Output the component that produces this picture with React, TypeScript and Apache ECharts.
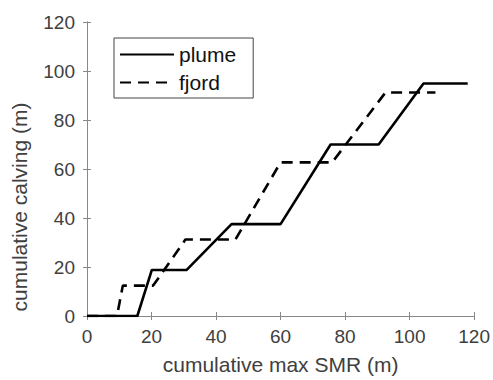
import React, { useEffect, useRef } from "react";
import * as echarts from "echarts";

const plumeX = [0, 15.6, 20.1, 30.9, 44.8, 60, 75.5, 90.4, 104.3, 118];
const plumeY = [0, 0, 18.8, 18.8, 37.5, 37.5, 70, 70, 94.9, 94.9];
const fjordX = [0, 9.3, 11.1, 20.5, 30.5, 46, 60, 76, 92.5, 108];
const fjordY = [0, 0, 12.4, 12.4, 31.2, 31.2, 62.7, 62.7, 91.2, 91.2];
const seriesNames = ["plume", "fjord"];
const xTitle = "cumulative max SMR (m)";
const yTitle = "cumulative calving (m)";

const pairs = (xs: number[], ys: number[]) => xs.map((x, i) => [x, ys[i]]);

export default function App() {
  const ref = useRef<HTMLDivElement>(null);
  useEffect(() => {
    if (!ref.current) return;
    const chart = echarts.init(ref.current, null, { renderer: "svg" });
    const font = "Liberation Sans, Arial, sans-serif";
    const axisLine = { show: true, lineStyle: { color: "#888", width: 1 } };
    const tick = { show: true, inside: true, length: 4, lineStyle: { color: "#888", width: 1 } };
    chart.setOption({
      animation: false,
      backgroundColor: "#fff",
      grid: { left: 87, right: 16, top: 22, bottom: 59, containLabel: false },
      legend: {
        orient: "vertical",
        left: 114,
        top: 38,
        padding: [6, 17, 5, 5],
        itemWidth: 54,
        itemHeight: 20,
        itemGap: 7,
        backgroundColor: "#fff",
        borderColor: "#444",
        borderWidth: 1,
        borderRadius: 0,
        itemStyle: { opacity: 0 },
        textStyle: { fontFamily: font, fontSize: 21, color: "#111" },
        data: seriesNames,
      },
      xAxis: [
        {
          type: "value",
          min: 0,
          max: 120,
          interval: 20,
          position: "bottom",
          axisLine,
          axisTick: tick,
          splitLine: { show: false },
          axisLabel: { fontFamily: font, fontSize: 19, color: "#404040", margin: 11 },
          name: xTitle,
          nameLocation: "middle",
          nameGap: 38,
          nameTextStyle: { fontFamily: font, fontSize: 21, color: "#404040" },
        },
        {
          type: "value",
          min: 0,
          max: 120,
          interval: 20,
          position: "top",
          axisLine,
          axisTick: tick,
          splitLine: { show: false },
          axisLabel: { show: false },
        },
      ],
      yAxis: [
        {
          type: "value",
          min: 0,
          max: 120,
          interval: 20,
          position: "left",
          axisLine,
          axisTick: tick,
          splitLine: { show: false },
          axisLabel: { fontFamily: font, fontSize: 19, color: "#404040", margin: 12 },
          name: yTitle,
          nameLocation: "middle",
          nameGap: 57,
          nameTextStyle: { fontFamily: font, fontSize: 21, color: "#404040", padding: [0, 76, 0, 0] },
        },
        {
          type: "value",
          min: 0,
          max: 120,
          interval: 20,
          position: "right",
          axisLine,
          axisTick: tick,
          splitLine: { show: false },
          axisLabel: { show: false },
        },
      ],
      series: [
        {
          name: seriesNames[0],
          type: "line",
          data: pairs(plumeX, plumeY),
          symbol: "none",
          lineStyle: { color: "#000", width: 2.6, type: "solid" },
          itemStyle: { color: "#000" },
        },
        {
          name: seriesNames[1],
          type: "line",
          data: pairs(fjordX, fjordY),
          symbol: "none",
          lineStyle: { color: "#000", width: 2.6, type: [11, 7] },
          itemStyle: { color: "#000" },
        },
      ],
    });
    return () => chart.dispose();
  }, []);
  return <div ref={ref} style={{ width: 493, height: 380, position: "absolute", left: 0, top: 0 }} />;
}
